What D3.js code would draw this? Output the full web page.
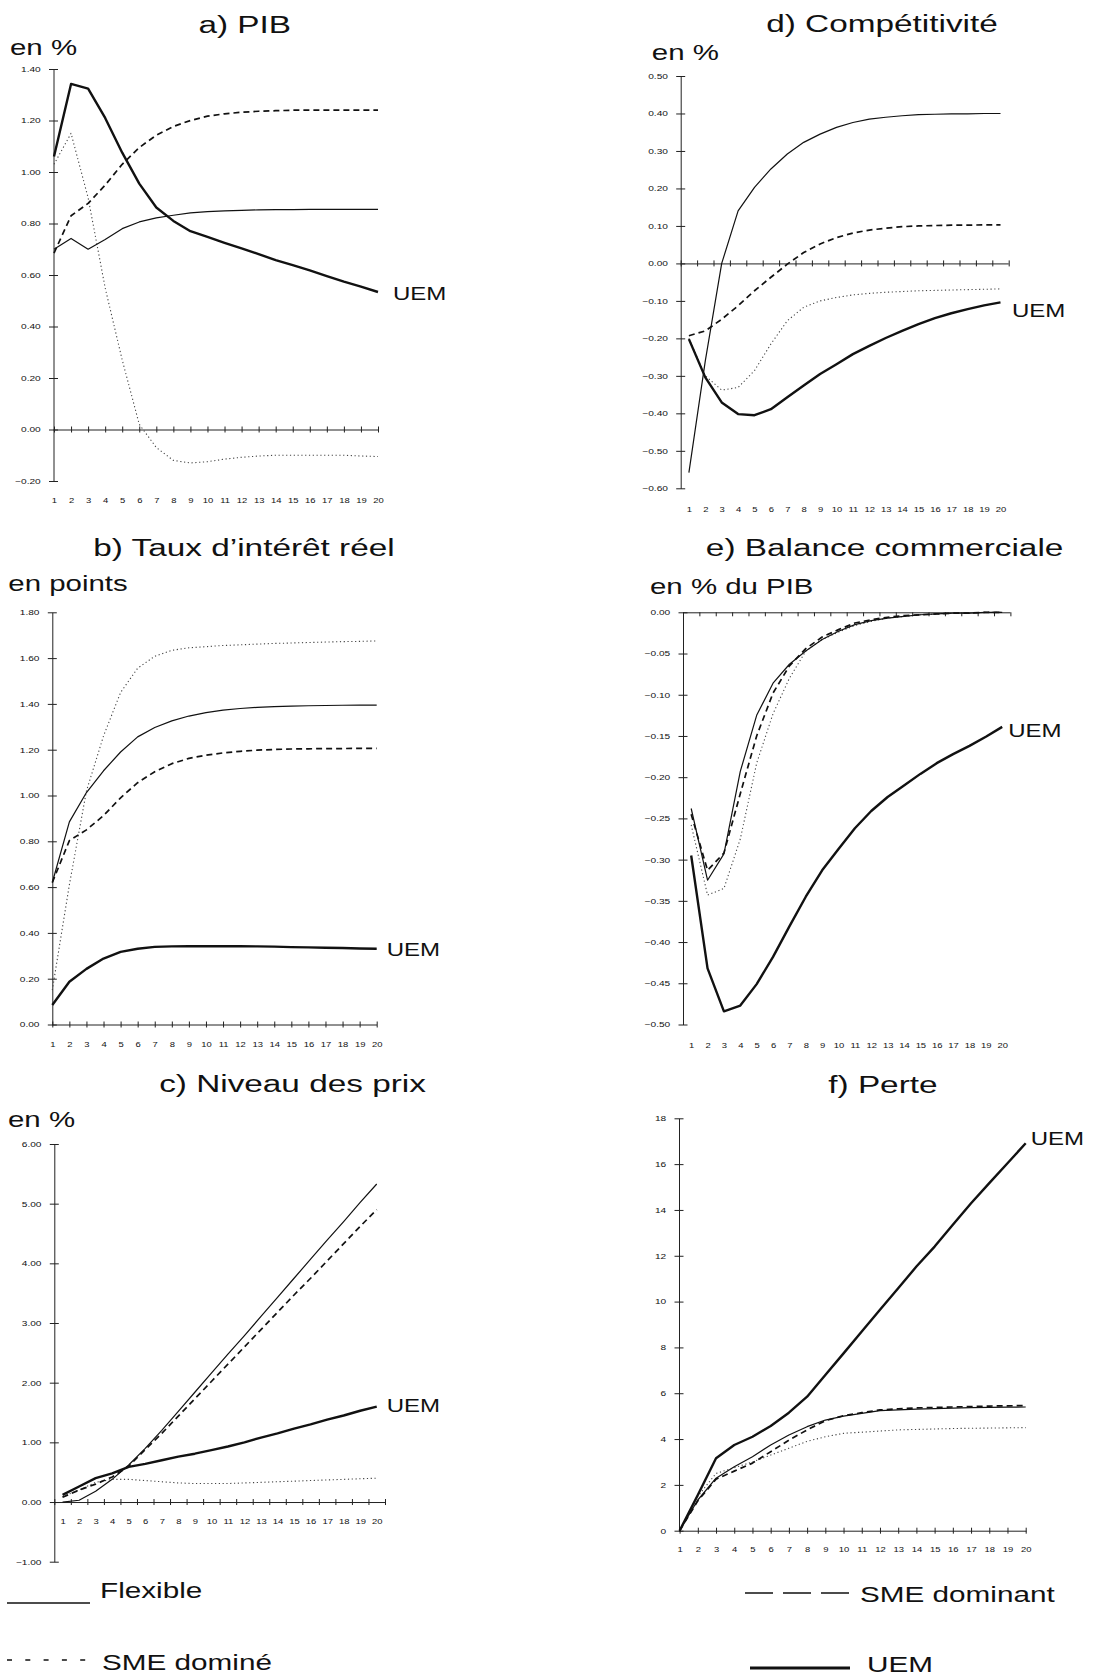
<!DOCTYPE html>
<html>
<head>
<meta charset="utf-8">
<script src="https://cdn.jsdelivr.net/npm/d3@7"></script>
<style>
body { margin: 0; background: #fff; }
svg text { font-family: "Liberation Sans", Arial, sans-serif; fill: #111; }
</style>
</head>
<body>
<div id="chart"></div>
<script>
var periods = d3.range(1, 21);

// a) PIB, en %
var pibFlexible = [0.70, 0.742, 0.70, 0.738, 0.78, 0.806, 0.822, 0.832, 0.841, 0.846, 0.849, 0.851, 0.853, 0.854, 0.854, 0.855, 0.855, 0.855, 0.855, 0.855];
var pibDomine   = [1.03, 1.15, 0.90, 0.55, 0.27, 0.02, -0.07, -0.12, -0.13, -0.125, -0.115, -0.108, -0.103, -0.10, -0.10, -0.10, -0.10, -0.10, -0.103, -0.105];
var pibDominant = [0.685, 0.83, 0.878, 0.949, 1.03, 1.095, 1.143, 1.177, 1.20, 1.217, 1.226, 1.232, 1.236, 1.238, 1.24, 1.24, 1.24, 1.24, 1.24, 1.24];
var pibUem      = [1.06, 1.342, 1.324, 1.21, 1.075, 0.955, 0.862, 0.81, 0.77, 0.748, 0.725, 0.703, 0.681, 0.658, 0.638, 0.618, 0.596, 0.574, 0.555, 0.534];

// b) Taux d'interet reel, en points
var tauxFlexible = [0.62, 0.885, 1.013, 1.108, 1.19, 1.256, 1.297, 1.326, 1.347, 1.362, 1.373, 1.38, 1.385, 1.388, 1.39, 1.392, 1.393, 1.394, 1.395, 1.395];
var tauxDomine   = [0.15, 0.61, 1.02, 1.26, 1.45, 1.556, 1.608, 1.634, 1.645, 1.65, 1.655, 1.658, 1.661, 1.664, 1.666, 1.668, 1.67, 1.672, 1.673, 1.675];
var tauxDominant = [0.62, 0.803, 0.85, 0.912, 0.99, 1.056, 1.104, 1.139, 1.162, 1.176, 1.186, 1.193, 1.198, 1.201, 1.203, 1.204, 1.205, 1.205, 1.206, 1.206];
var tauxUem      = [0.085, 0.187, 0.243, 0.288, 0.317, 0.331, 0.339, 0.341, 0.342, 0.342, 0.342, 0.342, 0.341, 0.34, 0.338, 0.337, 0.335, 0.334, 0.332, 0.331];

// c) Niveau des prix, en %
var prixFlexible = [0.0, 0.03, 0.18, 0.38, 0.62, 0.90, 1.20, 1.52, 1.84, 2.16, 2.48, 2.79, 3.11, 3.43, 3.75, 4.07, 4.39, 4.70, 5.02, 5.33];
var prixDomine   = [0.09, 0.2, 0.33, 0.38, 0.38, 0.36, 0.34, 0.32, 0.31, 0.31, 0.31, 0.32, 0.33, 0.34, 0.35, 0.36, 0.37, 0.38, 0.39, 0.40];
var prixDominant = [0.08, 0.2, 0.3, 0.42, 0.6, 0.88, 1.15, 1.44, 1.73, 2.02, 2.31, 2.60, 2.89, 3.18, 3.47, 3.75, 4.04, 4.33, 4.62, 4.90];
var prixUem      = [0.12, 0.26, 0.40, 0.48, 0.59, 0.64, 0.70, 0.76, 0.81, 0.87, 0.93, 1.00, 1.08, 1.15, 1.23, 1.30, 1.38, 1.45, 1.53, 1.60];

// d) Competitivite, en %
var compFlexible = [-0.558, -0.26, 0.0, 0.14, 0.203, 0.252, 0.292, 0.323, 0.345, 0.363, 0.376, 0.385, 0.39, 0.394, 0.397, 0.398, 0.399, 0.399, 0.40, 0.40];
var compDomine   = [-0.20, -0.30, -0.338, -0.331, -0.286, -0.215, -0.153, -0.117, -0.10, -0.091, -0.084, -0.08, -0.077, -0.075, -0.073, -0.072, -0.071, -0.07, -0.069, -0.068];
var compDominant = [-0.193, -0.18, -0.149, -0.113, -0.073, -0.037, -0.002, 0.029, 0.052, 0.069, 0.081, 0.089, 0.094, 0.098, 0.10, 0.101, 0.102, 0.102, 0.103, 0.103];
var compUem      = [-0.202, -0.304, -0.371, -0.402, -0.405, -0.389, -0.357, -0.326, -0.295, -0.269, -0.242, -0.22, -0.199, -0.18, -0.162, -0.146, -0.133, -0.122, -0.112, -0.104];

// e) Balance commerciale, en % du PIB
var balFlexible = [-0.238, -0.325, -0.293, -0.193, -0.125, -0.086, -0.063, -0.047, -0.033, -0.023, -0.015, -0.01, -0.007, -0.005, -0.003, -0.002, -0.001, -0.001, 0, 0];
var balDomine   = [-0.258, -0.343, -0.335, -0.275, -0.183, -0.123, -0.08, -0.047, -0.033, -0.024, -0.016, -0.011, -0.007, -0.005, -0.003, -0.002, -0.001, -0.001, 0, 0];
var balDominant = [-0.245, -0.313, -0.292, -0.22, -0.15, -0.098, -0.065, -0.044, -0.03, -0.021, -0.013, -0.009, -0.006, -0.004, -0.003, -0.002, -0.001, -0.001, 0, 0];
var balUem      = [-0.295, -0.432, -0.484, -0.477, -0.451, -0.418, -0.381, -0.345, -0.313, -0.287, -0.262, -0.241, -0.224, -0.21, -0.196, -0.183, -0.172, -0.162, -0.151, -0.139];

// f) Perte
var perteFlexible = [0, 1.34, 2.29, 2.79, 3.23, 3.74, 4.18, 4.54, 4.83, 5.0, 5.12, 5.24, 5.27, 5.31, 5.33, 5.35, 5.37, 5.38, 5.39, 5.40];
var perteDomine   = [0, 1.5, 2.5, 2.75, 3.0, 3.3, 3.6, 3.9, 4.1, 4.25, 4.3, 4.35, 4.4, 4.42, 4.44, 4.46, 4.47, 4.48, 4.49, 4.5];
var perteDominant = [0, 1.3, 2.25, 2.6, 2.95, 3.45, 3.95, 4.4, 4.8, 5.02, 5.15, 5.27, 5.32, 5.36, 5.38, 5.40, 5.42, 5.44, 5.45, 5.46];
var perteUem      = [0, 1.56, 3.16, 3.74, 4.1, 4.57, 5.15, 5.85, 6.8, 7.74, 8.69, 9.64, 10.58, 11.53, 12.4, 13.35, 14.29, 15.17, 16.04, 16.91];

var legendNames = {flexible: "Flexible", domine: "SME dominé", dominant: "SME dominant", uem: "UEM"};

// line look of each regime (drawn in this order)
var styles = [
  {key: "domine",   width: 1.1, dash: "1.2,2.6", color: "#444"},
  {key: "dominant", width: 1.7, dash: "6,4",     color: "#111"},
  {key: "flexible", width: 1.2, dash: null,      color: "#111"},
  {key: "uem",      width: 2.4, dash: null,      color: "#111"}
];

var sx = 1.35; // the scan is stretched sideways, so is the lettering

var panels = [
  {title: "a) PIB", unit: "en %", data: {flexible: pibFlexible, domine: pibDomine, dominant: pibDominant, uem: pibUem},
   cat: false, axisX: 53.5, xRange: [54, 378], lineEnd: 379, yDomain: [-0.2, 1.4], yRange: [481, 69], step: 0.2, fmt: ".2f",
   labelY: 502.5, titlePos: [244.7, 33.3], unitPos: [10, 55], uemOff: [15, 8]},
  {title: "b) Taux d\u2019intérêt réel", unit: "en points", data: {flexible: tauxFlexible, domine: tauxDomine, dominant: tauxDominant, uem: tauxUem},
   cat: false, axisX: 52.3, xRange: [52.3, 376.7], lineEnd: 377, yDomain: [0, 1.8], yRange: [1024.5, 612.3], step: 0.2, fmt: ".2f",
   labelY: 1046.5, titlePos: [244, 556], unitPos: [8.3, 590.6], uemOff: [10, 7]},
  {title: "c) Niveau des prix", unit: "en %", data: {flexible: prixFlexible, domine: prixDomine, dominant: prixDominant, uem: prixUem},
   cat: true, axisX: 54.3, xRange: [54.3, 385], lineEnd: 385, yDomain: [-1, 6], yRange: [1561.7, 1144], step: 1, fmt: ".2f",
   labelY: 1524, titlePos: [292.5, 1091.7], unitPos: [8, 1126.7], uemOff: [10, 5]},
  {title: "d) Compétitivité", unit: "en %", data: {flexible: compFlexible, domine: compDomine, dominant: compDominant, uem: compUem},
   cat: true, axisX: 680.7, xRange: [680.7, 1008.7], lineEnd: 1008.7, yDomain: [-0.6, 0.5], yRange: [488.3, 76], step: 0.1, fmt: ".2f",
   labelY: 511.5, titlePos: [882, 31.7], unitPos: [651.8, 60], uemOff: [11.5, 15]},
  {title: "e) Balance commerciale", unit: "en % du PIB", data: {flexible: balFlexible, domine: balDomine, dominant: balDominant, uem: balUem},
   cat: true, axisX: 683, xRange: [683, 1010.4], lineEnd: 1010.4, yDomain: [-0.5, 0], yRange: [1024.5, 612.3], step: 0.05, fmt: ".2f",
   labelY: 1048, titlePos: [884.6, 556], unitPos: [650, 594], uemOff: [6, 10], hangTicks: true},
  {title: "f) Perte", unit: null, data: {flexible: perteFlexible, domine: perteDomine, dominant: perteDominant, uem: perteUem},
   cat: false, axisX: 679, xRange: [679.6, 1025.7], lineEnd: 1026.5, yDomain: [0, 18], yRange: [1530.7, 1118.3], step: 2, fmt: "d",
   labelY: 1551.5, titlePos: [882.9, 1093.3], unitPos: null, uemOff: [5, 2]}
];

var svg = d3.select("#chart")
    .append("svg")
    .attr("width", 1093)
    .attr("height", 1677);

function label(g, x, y, s, size, anchor) {
  return g.append("text")
    .attr("transform", "translate(" + x + "," + y + ") scale(" + sx + ",1)")
    .attr("text-anchor", anchor || "start")
    .attr("font-size", size)
    .text(s);
}

panels.forEach(function(p) {
  var g = svg.append("g");

  // point panels put period 1 on the value axis, category panels centre it in its slot
  var x = d3.scaleLinear()
      .domain(p.cat ? [0.5, 20.5] : [1, 20])
      .range(p.xRange);
  var y = d3.scaleLinear()
      .domain(p.yDomain)
      .range(p.yRange);

  var n = Math.round((p.yDomain[1] - p.yDomain[0]) / p.step);
  var yTicks = d3.range(n + 1).map(function(i) { return p.yDomain[0] + i * p.step; });

  var gy = g.append("g")
      .attr("transform", "translate(" + p.axisX + ",0)")
      .call(d3.axisLeft(y)
          .tickValues(yTicks)
          .tickFormat(d3.format(p.fmt))
          .tickSizeInner(4.5)
          .tickSizeOuter(0)
          .tickPadding(5));
  gy.attr("font-size", 7.5).attr("font-family", null);
  gy.select(".domain").attr("stroke", "#222");
  gy.selectAll(".tick line").attr("x1", 4.5).attr("stroke", "#222");
  gy.selectAll(".tick text").attr("transform", "scale(" + sx + ",1)");

  // the zero line with its small ticks
  var zeroTicks = p.cat ? d3.range(21).map(function(i) { return i + 0.5; }) : periods;
  var gz = g.append("g")
      .attr("transform", "translate(0," + y(0) + ")")
      .call(d3.axisBottom(x)
          .tickValues(zeroTicks)
          .tickFormat("")
          .tickSizeInner(3)
          .tickSizeOuter(0));
  gz.select(".domain").attr("stroke", "#222")
      .attr("d", "M" + p.axisX + ",0.5H" + p.lineEnd);
  gz.selectAll(".tick line").attr("stroke", "#222")
      .attr("y1", p.hangTicks ? 0 : -3)
      .attr("y2", p.hangTicks ? 4 : 3);

  // period labels
  var gl = g.append("g")
      .attr("transform", "translate(0," + p.labelY + ")")
      .call(d3.axisBottom(x)
          .tickValues(periods)
          .tickFormat(d3.format("d"))
          .tickSize(0)
          .tickPadding(0));
  gl.attr("font-size", 7).attr("font-family", null);
  gl.select(".domain").remove();
  gl.selectAll(".tick text").attr("dy", null).attr("y", 0)
      .attr("transform", "scale(" + sx + ",1)");

  var line = d3.line()
      .curve(d3.curveLinear)
      .x(function(d, i) { return x(periods[i]); })
      .y(function(d) { return y(d); });

  styles.forEach(function(s) {
    g.append("path")
      .datum(p.data[s.key])
      .attr("fill", "none")
      .attr("stroke", s.color)
      .attr("stroke-width", s.width)
      .attr("stroke-dasharray", s.dash)
      .attr("stroke-linejoin", "round")
      .attr("d", line);
  });

  var uem = p.data.uem;
  label(g, x(20) + p.uemOff[0], y(uem[uem.length - 1]) + p.uemOff[1], "UEM", 17.8);
  label(g, p.titlePos[0], p.titlePos[1], p.title, 24.7, "middle");
  if (p.unit) label(g, p.unitPos[0], p.unitPos[1], p.unit, 21.8);
});

// legend
var legend = [
  {key: "flexible", x1: 7,   x2: 90,  y: 1603, width: 1.3, dash: null,     tx: 100, ty: 1598.3},
  {key: "domine",   x1: 7,   x2: 90,  y: 1660, width: 1.3, dash: "5,13.3", tx: 102, ty: 1670},
  {key: "dominant", x1: 745, x2: 849, y: 1593, width: 1.5, dash: "28,10",  tx: 860, ty: 1601.7},
  {key: "uem",      x1: 750, x2: 850, y: 1668, width: 3,   dash: null,     tx: 867, ty: 1671.7}
];

legend.forEach(function(l) {
  svg.append("line")
    .attr("x1", l.x1).attr("x2", l.x2)
    .attr("y1", l.y).attr("y2", l.y)
    .attr("stroke", "#111")
    .attr("stroke-width", l.width)
    .attr("stroke-dasharray", l.dash);
  label(svg, l.tx, l.ty, legendNames[l.key], 22);
});
</script>
</body>
</html>
